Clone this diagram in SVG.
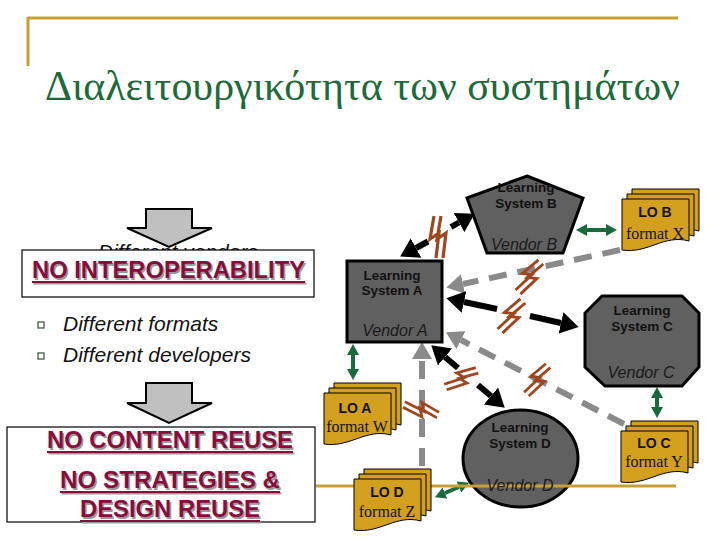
<svg xmlns="http://www.w3.org/2000/svg" width="720" height="540" viewBox="0 0 720 540">
<style>
.gold{stroke:#c8a032;stroke-width:3;fill:none}
.title{font-family:"Liberation Serif","Times New Roman",serif;font-size:42px;fill:#1d6a3a}
.warn{font-family:"Liberation Sans",Arial,sans-serif;font-weight:bold;font-size:23px;fill:#8a0c3a}
.shadow{font-family:"Liberation Sans",Arial,sans-serif;font-weight:bold;font-size:23px;fill:#9a9a9a}
.ul{stroke:#8a0c3a;stroke-width:2}
.uls{stroke:#9a9a9a;stroke-width:2}
.box{fill:#fff;stroke:#000;stroke-width:1.2}
.bullet{font-family:"Liberation Sans",Arial,sans-serif;font-style:italic;font-size:21px;fill:#111}
.bq{fill:#fff;stroke:#3c5a44;stroke-width:1.3}
.down{fill:#c0c0c0;stroke:#000;stroke-width:2}
.sys{fill:#606060;stroke:#000;stroke-width:3}
.ls{font-family:"Liberation Sans",Arial,sans-serif;font-weight:bold;font-size:13.5px;fill:#111;text-anchor:middle}
.vd{font-family:"Liberation Sans",Arial,sans-serif;font-style:italic;font-size:16px;fill:#1a1a1a;text-anchor:middle}
.doc{fill:#d2a01c;stroke:#000;stroke-width:1}
.lo{font-family:"Liberation Sans",Arial,sans-serif;font-weight:bold;font-size:14px;fill:#111;text-anchor:middle}
.fmt{font-family:"Liberation Serif","Times New Roman",serif;font-size:16px;fill:#111;text-anchor:middle}
.blk{stroke:#000;stroke-width:6;fill:none}
.gry{stroke:#8a8a8a;stroke-width:6;fill:none;stroke-dasharray:18 11}
.grn{stroke:#1a6b3c;stroke-width:4;fill:none}
.bolt{stroke:#a0461e;stroke-width:3.2;fill:none;stroke-linejoin:miter}
</style>
<defs>
<marker id="ahK" viewBox="0 -11 19 22" refX="0" refY="0" markerWidth="19" markerHeight="22" markerUnits="userSpaceOnUse" orient="auto"><path d="M0,-11 L18,0 L0,11 Z" fill="#000"/></marker>
<marker id="ahG" viewBox="0 -10 18 20" refX="0" refY="0" markerWidth="18" markerHeight="20" markerUnits="userSpaceOnUse" orient="auto"><path d="M0,-10 L17,0 L0,10 Z" fill="#8a8a8a"/></marker>
<marker id="ahN" viewBox="0 -6 11 12" refX="0" refY="0" markerWidth="11" markerHeight="12" markerUnits="userSpaceOnUse" orient="auto-start-reverse"><path d="M0,-6 L11,0 L0,6 Z" fill="#1a6b3c"/></marker>
<path id="doc" class="doc" d="M0,0 H67 V42 C42,35 26,55 0,51 Z"/>
<g id="bolt"><path class="bolt" d="M-1,-21 L-5,2 L4,-4 L1,21 M6,-21 L2,2 L11,-4 L8,21"/></g>
</defs>

<rect width="720" height="540" fill="#fff"/>

<g id="header">
<path class="gold" d="M28,18 H678 M28,17 V66"/>
<text class="title" x="45" y="100" textLength="635" lengthAdjust="spacingAndGlyphs">Διαλειτουργικότητα των συστημάτων</text>
</g>

<g id="left-panel">
<path class="down" d="M146,209 H192 V228 H212 L169,247 L127,228 H146 Z"/>
<text class="bullet" x="98" y="259">Different vendors</text>
<rect class="box" x="22" y="250" width="292" height="47"/>
<text class="shadow" x="33.5" y="279.5" textLength="273" lengthAdjust="spacingAndGlyphs">NO INTEROPERABILITY</text>
<line class="uls" x1="33.5" y1="283.5" x2="306.5" y2="283.5"/>
<text class="warn" x="32" y="278" textLength="273" lengthAdjust="spacingAndGlyphs">NO INTEROPERABILITY</text>
<line class="ul" x1="32" y1="282" x2="305" y2="282"/>
<rect class="bq" x="38" y="322" width="6" height="6"/>
<text class="bullet" x="63" y="331">Different formats</text>
<rect class="bq" x="38" y="353" width="6" height="6"/>
<text class="bullet" x="63" y="362">Different developers</text>

<path class="down" d="M146,383 H192 V403 H212 L169,423 L127,403 H146 Z"/>
<rect class="box" x="7" y="427" width="308" height="95"/>
<text class="shadow" x="48.5" y="449.5" textLength="246" lengthAdjust="spacingAndGlyphs">NO CONTENT REUSE</text>
<line class="uls" x1="48.5" y1="453.5" x2="294.5" y2="453.5"/>
<text class="warn" x="47" y="448" textLength="246" lengthAdjust="spacingAndGlyphs">NO CONTENT REUSE</text>
<line class="ul" x1="47" y1="452" x2="293" y2="452"/>
<text class="shadow" x="61.5" y="489.5" textLength="220" lengthAdjust="spacingAndGlyphs">NO STRATEGIES &amp;</text>
<line class="uls" x1="61.5" y1="493.5" x2="281.5" y2="493.5"/>
<text class="warn" x="60" y="488" textLength="220" lengthAdjust="spacingAndGlyphs">NO STRATEGIES &amp;</text>
<line class="ul" x1="60" y1="492" x2="280" y2="492"/>
<text class="shadow" x="81.5" y="518.5" textLength="180" lengthAdjust="spacingAndGlyphs">DESIGN REUSE</text>
<line class="uls" x1="81.5" y1="522.5" x2="261.5" y2="522.5"/>
<text class="warn" x="80" y="517" textLength="180" lengthAdjust="spacingAndGlyphs">DESIGN REUSE</text>
<line class="ul" x1="80" y1="521" x2="260" y2="521"/>
</g>

<g id="connectors">
<line class="gry" x1="620" y1="250" x2="463" y2="284" marker-end="url(#ahG)"/>
<line class="gry" x1="624" y1="424" x2="461" y2="340" marker-end="url(#ahG)"/>
<line class="gry" x1="422" y1="466" x2="422" y2="359" marker-end="url(#ahG)"/>
<line class="blk" x1="428" y1="241.5" x2="416" y2="248" marker-end="url(#ahK)"/>
<line class="blk" x1="451" y1="227" x2="459" y2="222.5" marker-end="url(#ahK)"/>
<line class="blk" x1="497" y1="309" x2="464" y2="302" marker-end="url(#ahK)"/>
<line class="blk" x1="530" y1="316" x2="561" y2="323" marker-end="url(#ahK)"/>
<line class="blk" x1="458" y1="368" x2="445" y2="357" marker-end="url(#ahK)"/>
<line class="blk" x1="478" y1="385" x2="491" y2="396" marker-end="url(#ahK)"/>
<line class="grn" x1="587" y1="230" x2="606" y2="230" marker-start="url(#ahN)" marker-end="url(#ahN)"/>
<line class="grn" x1="657" y1="398" x2="657" y2="407" marker-start="url(#ahN)" marker-end="url(#ahN)"/>
<line class="grn" x1="353" y1="355" x2="353" y2="369" marker-start="url(#ahN)" marker-end="url(#ahN)"/>
<line class="grn" x1="445" y1="493" x2="459" y2="487" marker-start="url(#ahN)" marker-end="url(#ahN)"/>
<use href="#bolt" transform="translate(435,237)"/>
<use href="#bolt" transform="translate(527,275) rotate(40) scale(0.9)"/>
<use href="#bolt" transform="translate(509,314) rotate(40) scale(0.9)"/>
<use href="#bolt" transform="translate(460,376) rotate(65) scale(0.85)"/>
<use href="#bolt" transform="translate(535,378) rotate(40) scale(0.85)"/>
<use href="#bolt" transform="translate(422,407) rotate(110) scale(0.85)"/>
</g>

<g id="system-b">
<polygon class="sys" points="527,176 583,198 563,253 487,253 467,198"/>
<text class="ls" x="526" y="192">Learning</text>
<text class="ls" x="526" y="208">System B</text>
<text class="vd" x="524" y="250">Vendor B</text>
</g>
<g id="system-a">
<rect class="sys" x="347" y="261" width="95" height="81"/>
<text class="ls" x="392" y="280">Learning</text>
<text class="ls" x="392" y="295">System A</text>
<text class="vd" x="395" y="336">Vendor A</text>
</g>
<g id="system-c">
<polygon class="sys" points="602,296 682,296 699,313 699,367 682,386 605,386 585,367 585,313"/>
<text class="ls" x="642" y="315">Learning</text>
<text class="ls" x="642" y="331">System C</text>
<text class="vd" x="641" y="378">Vendor C</text>
</g>
<g id="system-d">
<ellipse class="sys" cx="520.5" cy="458.5" rx="57.5" ry="48.5"/>
<line class="gold" x1="316" y1="486" x2="676" y2="486"/>
<text class="ls" x="520" y="432">Learning</text>
<text class="ls" x="520" y="448">System D</text>
<text class="vd" x="520" y="491">Vendor D</text>
</g>

<g id="lo-b">
<use href="#doc" x="632" y="189"/><use href="#doc" x="627" y="194"/><use href="#doc" x="622" y="199"/>
<text class="lo" x="655" y="217">LO B</text>
<text class="fmt" x="655" y="239">format X</text>
</g>
<g id="lo-c">
<use href="#doc" x="631" y="421"/><use href="#doc" x="626" y="426"/><use href="#doc" x="621" y="431"/>
<text class="lo" x="654" y="448">LO C</text>
<text class="fmt" x="654" y="467">format Y</text>
</g>
<g id="lo-a">
<use href="#doc" x="334" y="383"/><use href="#doc" x="329" y="388"/><use href="#doc" x="324" y="393"/>
<text class="lo" x="355" y="413">LO A</text>
<text class="fmt" x="357" y="432">format W</text>
</g>
<g id="lo-d">
<use href="#doc" x="364" y="469"/><use href="#doc" x="359" y="474"/><use href="#doc" x="354" y="479"/>
<text class="lo" x="387" y="497">LO D</text>
<text class="fmt" x="387" y="517">format Z</text>
</g>
</svg>
